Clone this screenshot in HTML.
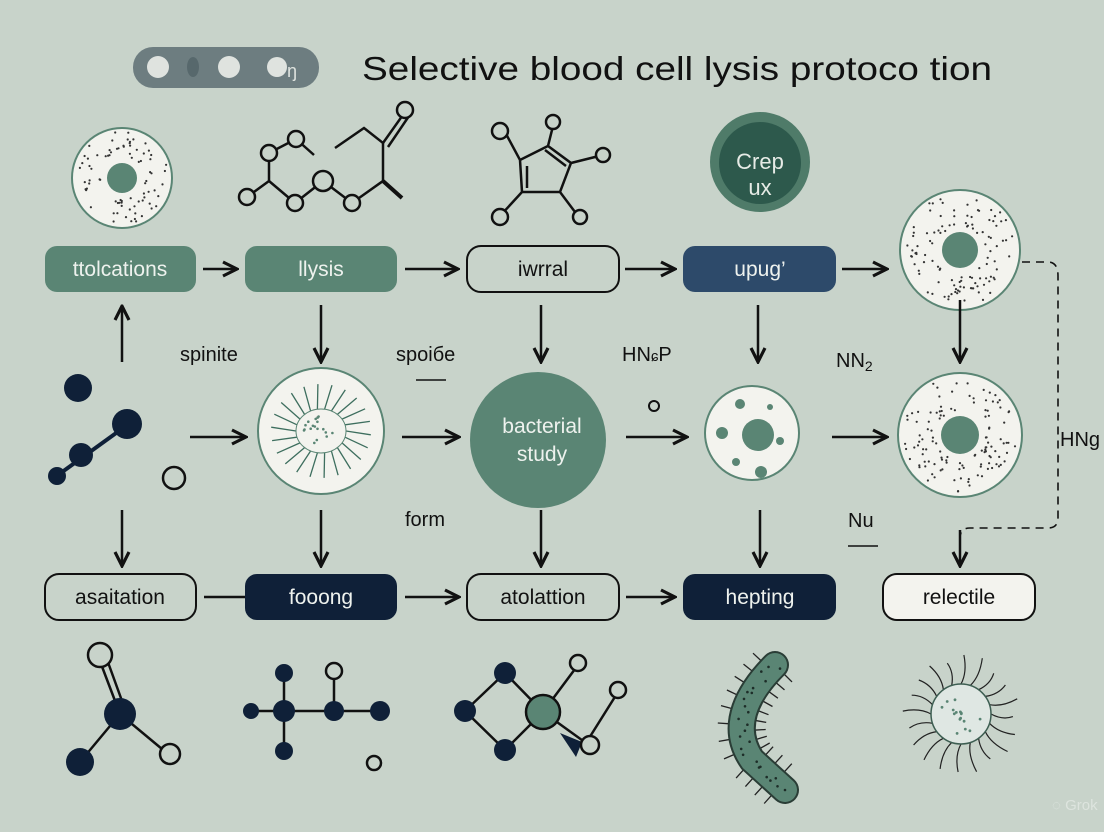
<!DOCTYPE html>
<html><head><meta charset="utf-8"><style>
html,body{margin:0;padding:0;background:#c8d3ca;}
svg{display:block;font-family:"Liberation Sans",sans-serif;}
</style></head><body>
<svg id="s" width="1104" height="832" viewBox="0 0 1104 832" xmlns="http://www.w3.org/2000/svg">
<defs>
<marker id="ah" viewBox="0 0 10 10" refX="9" refY="5" markerWidth="7" markerHeight="7" orient="auto"><path d="M1,1 L9,5 L1,9" fill="none" stroke="#111" stroke-width="1.8"/></marker>
</defs>
<rect width="1104" height="832" fill="#c8d3ca"/>
<!-- title -->
<rect x="133" y="47" width="186" height="41" rx="20" fill="#6d7d80"/>
<circle cx="158" cy="67" r="11" fill="#dfe3df"/>
<ellipse cx="193" cy="67" rx="6" ry="10" fill="#57686c"/>
<circle cx="229" cy="67" r="11" fill="#dfe3df"/>
<circle cx="277" cy="67" r="10" fill="#dfe3df"/>
<text x="287" y="77" font-size="18" fill="#dfe3df">ŋ</text>
<text x="362" y="80" font-size="33" fill="#111" textLength="630" lengthAdjust="spacingAndGlyphs">Selective blood cell lysis protoco tion</text>

<g id="dyn"></g>

<!-- top molecules -->
<g stroke="#111" stroke-width="2.5" fill="none">
<path d="M247,197 L269,181 L269,153 L296,139 L314,155"/>
<path d="M269,181 L295,203 L323,181 L352,203 L383,181 L383,143 L364,128 L335,148"/>
<path d="M383,181 L402,198" stroke-width="4"/>
<path d="M383,143 L405,112 M388,147 L409,116"/>
<circle cx="247" cy="197" r="8" fill="#c8d3ca"/><circle cx="269" cy="153" r="8" fill="#c8d3ca"/><circle cx="296" cy="139" r="8" fill="#c8d3ca"/>
<circle cx="295" cy="203" r="8" fill="#c8d3ca"/><circle cx="323" cy="181" r="10" fill="#c8d3ca"/><circle cx="352" cy="203" r="8" fill="#c8d3ca"/><circle cx="405" cy="110" r="8" fill="#c8d3ca"/>
<path d="M505,132 L520,160 L548,146 L571,163 L560,192 L522,192 L520,160 M527,166 L527,188 M548,146 L553,126 M571,163 L603,155 M522,192 L500,216 M560,192 L578,216 M545,150 L566,166"/>
<circle cx="500" cy="131" r="8" fill="#c8d3ca"/><circle cx="553" cy="122" r="7" fill="#c8d3ca"/><circle cx="603" cy="155" r="7" fill="#c8d3ca"/><circle cx="500" cy="217" r="8" fill="#c8d3ca"/><circle cx="580" cy="217" r="7" fill="#c8d3ca"/>
</g>
<!-- Crep ux -->
<circle cx="760" cy="162" r="50" fill="#4f7b69"/><circle cx="760" cy="163" r="41" fill="#2d594c"/>
<text x="760" y="169" font-size="22" fill="#e6ebe6" text-anchor="middle">Crep</text>
<text x="760" y="195" font-size="22" fill="#e6ebe6" text-anchor="middle">ux</text>

<!-- row1 boxes -->
<g font-size="21" text-anchor="middle">
<rect x="45" y="246" width="151" height="46" rx="12" fill="#5a8574"/><text x="120" y="276" fill="#eef2ee">ttolcations</text>
<rect x="245" y="246" width="152" height="46" rx="12" fill="#5a8574"/><text x="321" y="276" fill="#eef2ee">llysis</text>
<rect x="467" y="246" width="152" height="46" rx="14" fill="none" stroke="#111" stroke-width="2"/><text x="543" y="276" fill="#111">iwrral</text>
<rect x="683" y="246" width="153" height="46" rx="12" fill="#2d4a6a"/><text x="760" y="276" fill="#eef2ee">upug’</text>
<!-- row3 -->
<rect x="45" y="574" width="151" height="46" rx="14" fill="none" stroke="#111" stroke-width="2"/><text x="120" y="604" fill="#111">asaitation</text>
<rect x="245" y="574" width="152" height="46" rx="12" fill="#0f2038"/><text x="321" y="604" fill="#eef2ee">fooong</text>
<rect x="467" y="574" width="152" height="46" rx="14" fill="none" stroke="#111" stroke-width="2"/><text x="543" y="604" fill="#111">atolattion</text>
<rect x="683" y="574" width="153" height="46" rx="12" fill="#0f2038"/><text x="760" y="604" fill="#eef2ee">hepting</text>
<rect x="883" y="574" width="152" height="46" rx="14" fill="#f3f3ee" stroke="#111" stroke-width="2"/><text x="959" y="604" fill="#111">relectile</text>
</g>

<!-- arrows -->
<g stroke="#111" stroke-width="2.5" marker-end="url(#ah)" fill="none">
<path d="M203,269 H237"/><path d="M405,269 H458"/><path d="M625,269 H675"/><path d="M842,269 H887"/>
<path d="M190,437 H246"/><path d="M402,437 H459"/><path d="M626,437 H687"/><path d="M832,437 H887"/>
<path d="M405,597 H459"/><path d="M626,597 H675"/>
<path d="M122,362 V306"/><path d="M321,305 V362"/><path d="M541,305 V362"/><path d="M758,305 V362"/><path d="M960,300 V362"/>
<path d="M122,510 V566"/><path d="M321,510 V566"/><path d="M541,510 V566"/><path d="M760,510 V566"/><path d="M960,530 V566"/>
</g>
<path d="M204,597 H245" stroke="#111" stroke-width="2.5"/>
<path d="M1022,262 H1048 Q1058,262 1058,276 V518 Q1058,528 1048,528 H970 Q960,528 960,538" stroke="#111" stroke-width="1.6" stroke-dasharray="8,6" fill="none"/>

<!-- labels -->
<g font-size="20" fill="#111">
<text x="180" y="361">spinite</text>
<text x="396" y="361">spoiбe</text>
<text x="622" y="361">HN<tspan font-size="15">ɕ</tspan>P</text>
<text x="836" y="367">NN<tspan font-size="14" dy="4">2</tspan></text>
<text x="1060" y="446">HNg</text>
<text x="405" y="526">form</text>
<text x="848" y="527">Nu</text>
</g>
<path d="M416,380 H446 M848,546 H878" stroke="#111" stroke-width="1.5"/>
<circle cx="654" cy="406" r="5" fill="none" stroke="#111" stroke-width="2"/>

<!-- left molecule row2 -->
<g fill="#0f2038">
<circle cx="78" cy="388" r="14"/><path d="M58,475 L130,423" stroke="#0f2038" stroke-width="4"/>
<circle cx="127" cy="424" r="15"/><circle cx="81" cy="455" r="12"/><circle cx="57" cy="476" r="9"/>
</g>
<circle cx="174" cy="478" r="11" fill="none" stroke="#111" stroke-width="2.5"/>

<!-- bacterial study -->
<circle cx="538" cy="440" r="68" fill="#5a8574"/>
<text x="542" y="433" font-size="21" fill="#eef2ee" text-anchor="middle">bacterial</text>
<text x="542" y="461" font-size="21" fill="#eef2ee" text-anchor="middle">study</text>

<!-- cell 752 -->
<circle cx="752" cy="433" r="47" fill="#f3f3ee" stroke="#5a8574" stroke-width="2"/>
<g fill="#5a8574"><circle cx="758" cy="435" r="16"/><circle cx="740" cy="404" r="5"/><circle cx="770" cy="407" r="3"/><circle cx="722" cy="433" r="6"/><circle cx="780" cy="441" r="4"/><circle cx="736" cy="462" r="4"/><circle cx="761" cy="472" r="6"/></g>

<!-- bottom icons -->
<g stroke="#111" stroke-width="2.5" fill="none">
<path d="M98,656 L120,714 M105,654 L126,712"/><path d="M120,714 L80,762 M120,714 L168,754"/>
<path d="M250,711 H388 M284,672 V752 M334,672 V711"/>
<path d="M465,711 L505,673 L543,712 L505,750 Z M543,712 L578,665 M543,712 L586,743 L618,692"/>
</g>
<circle cx="100" cy="655" r="12" fill="#c8d3ca" stroke="#111" stroke-width="2.5"/>
<circle cx="120" cy="714" r="16" fill="#0f2038"/><circle cx="80" cy="762" r="14" fill="#0f2038"/><circle cx="170" cy="754" r="10" fill="#c8d3ca" stroke="#111" stroke-width="2.5"/>
<g fill="#0f2038"><circle cx="251" cy="711" r="8"/><circle cx="284" cy="673" r="9"/><circle cx="284" cy="711" r="11"/><circle cx="334" cy="711" r="10"/><circle cx="380" cy="711" r="10"/><circle cx="284" cy="751" r="9"/></g>
<circle cx="334" cy="671" r="8" fill="#c8d3ca" stroke="#111" stroke-width="2.5"/><circle cx="374" cy="763" r="7" fill="#c8d3ca" stroke="#111" stroke-width="2.5"/>
<path d="M560,733 L582,742 L576,757 Z" fill="#0f2038"/>
<g fill="#0f2038"><circle cx="465" cy="711" r="11"/><circle cx="505" cy="673" r="11"/><circle cx="505" cy="750" r="11"/></g>
<circle cx="543" cy="712" r="17" fill="#5a8574" stroke="#111" stroke-width="2.5"/>
<circle cx="578" cy="663" r="8" fill="#c8d3ca" stroke="#111" stroke-width="2.5"/><circle cx="618" cy="690" r="8" fill="#c8d3ca" stroke="#111" stroke-width="2.5"/><circle cx="590" cy="745" r="9" fill="#c8d3ca" stroke="#111" stroke-width="2.5"/>
<!-- bacterium -->
<g id="hairs" stroke="#222" stroke-width="1.3" fill="none"></g>
<path id="bac" d="M775,665 C750,690 728,725 752,760 L785,790" stroke="#2a3d36" stroke-width="28" stroke-linecap="round" fill="none"/>
<path d="M775,665 C750,690 728,725 752,760 L785,790" stroke="#5a8574" stroke-width="24" stroke-linecap="round" fill="none"/>
<g id="bdots" fill="#1d2d28"></g>
<!-- small bottom right cell -->
<g id="rc"></g>
<text x="1052" y="810" font-size="15" fill="#dde4de">◌ Grok</text>
</svg>
<script>
var s=document.getElementById('dyn'),h='';
function rnd(seed){var x=Math.sin(seed)*10000;return x-Math.floor(x);}
function cell(cx,cy,R,r,seed,n){
 h+='<circle cx="'+cx+'" cy="'+cy+'" r="'+R+'" fill="#f3f3ee" stroke="#5a8574" stroke-width="2"/>';
 for(var i=0;i<n;i++){var a=rnd(seed+i)*6.283,d=r+6+rnd(seed+i*7.1)*(R-r-10);
 h+='<circle cx="'+(cx+Math.cos(a)*d).toFixed(1)+'" cy="'+(cy+Math.sin(a)*d).toFixed(1)+'" r="1.1" fill="#333"/>';}
 h+='<circle cx="'+cx+'" cy="'+cy+'" r="'+r+'" fill="#5a8574"/>';
}
cell(122,178,50,15,1,80);cell(960,250,60,18,50,110);cell(960,435,62,19,300,120);
h+='<circle cx="321" cy="431" r="63" fill="#f3f3ee" stroke="#5a8574" stroke-width="2"/>';
for(var i=0;i<22;i++){var a=i/22*6.283,x1=321+Math.cos(a)*25,y1=431+Math.sin(a)*22,x2=321+Math.cos(a+0.08)*50,y2=431+Math.sin(a+0.08)*47;
h+='<path d="M'+x1.toFixed(1)+','+y1.toFixed(1)+' L'+x2.toFixed(1)+','+y2.toFixed(1)+'" stroke="#3d6e5e" stroke-width="1.3" fill="none"/>';}
h+='<ellipse cx="321" cy="431" rx="25" ry="22" fill="#f3f3ee" stroke="#5a8574" stroke-width="1"/>';
for(var i=0;i<18;i++){var a=rnd(900+i)*6.283,d=rnd(950+i)*18;h+='<circle cx="'+(321+Math.cos(a)*d).toFixed(1)+'" cy="'+(431+Math.sin(a)*d*0.85).toFixed(1)+'" r="1.3" fill="#5a8574"/>';}
s.innerHTML=h;
// bottom right cell
var r='';
for(var i=0;i<20;i++){var a=i/20*6.283;r+='<path d="M'+(961+Math.cos(a)*30).toFixed(1)+','+(714+Math.sin(a)*30).toFixed(1)+' Q'+(961+Math.cos(a+0.15)*42).toFixed(1)+','+(714+Math.sin(a+0.15)*42).toFixed(1)+' '+(961+Math.cos(a+0.05)*(52+rnd(i)*8)).toFixed(1)+','+(714+Math.sin(a+0.05)*(52+rnd(i)*8)).toFixed(1)+'" stroke="#222" stroke-width="1.2" fill="none"/>';}
r+='<circle cx="961" cy="714" r="30" fill="#dfe7e3" stroke="#3d5e52" stroke-width="1.5"/>';
for(var i=0;i<16;i++){var a=rnd(500+i)*6.283,d=rnd(600+i)*24;r+='<circle cx="'+(961+Math.cos(a)*d).toFixed(1)+'" cy="'+(714+Math.sin(a)*d).toFixed(1)+'" r="1.4" fill="#5a8574"/>';}
document.getElementById('rc').innerHTML=r;
// bacterium hairs and dots
var p=document.getElementById('bac'),L=p.getTotalLength(),hh='',dd='';
for(var i=0;i<=24;i++){var t=i/24*L,a=p.getPointAtLength(t),b=p.getPointAtLength(Math.min(L,t+1)),dx=b.x-a.x,dy=b.y-a.y,m=Math.hypot(dx,dy)||1,nx=-dy/m,ny=dx/m,sg=i%2?1:-1;
hh+='<path d="M'+(a.x+nx*sg*12).toFixed(1)+','+(a.y+ny*sg*12).toFixed(1)+' L'+(a.x+nx*sg*24).toFixed(1)+','+(a.y+ny*sg*24).toFixed(1)+'"/>';
dd+='<circle cx="'+(a.x+nx*(rnd(i)*14-7)).toFixed(1)+'" cy="'+(a.y+ny*(rnd(i+40)*14-7)).toFixed(1)+'" r="1.3"/>';}
document.getElementById('hairs').innerHTML=hh;document.getElementById('bdots').innerHTML=dd;
</script>
</body></html>
